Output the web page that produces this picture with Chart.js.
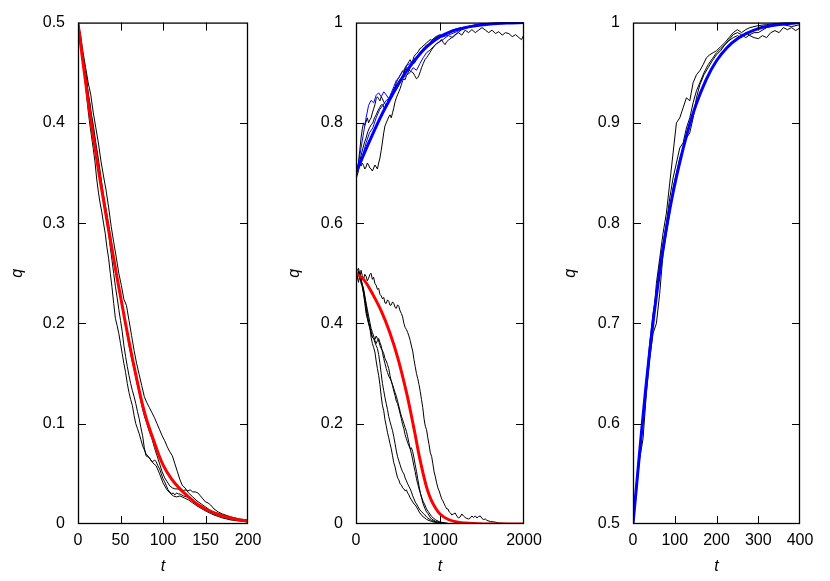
<!DOCTYPE html>
<html><head><meta charset="utf-8">
<script src="https://cdn.jsdelivr.net/npm/chart.js@4.4.1/dist/chart.umd.min.js"></script>
<style>
html,body{margin:0;padding:0;background:#fff;}
#wrap{position:relative;width:830px;height:581px;overflow:hidden;}
.pane{position:absolute;top:0;height:581px;}
</style></head><body>
<div id="wrap">
<div class="pane" style="left:0;width:277px"><canvas id="c1"></canvas></div>
<div class="pane" style="left:277px;width:276px"><canvas id="c2"></canvas></div>
<div class="pane" style="left:553px;width:277px"><canvas id="c3"></canvas></div>
</div>
<script>
// ---------- tick labels ----------
const p1XTicks = [0, 50, 100, 150, 200];
const p1YTicks = [0, 0.1, 0.2, 0.3, 0.4, 0.5];
const p2XTicks = [0, 1000, 2000];
const p2YTicks = [0, 0.2, 0.4, 0.6, 0.8, 1];
const p3XTicks = [0, 100, 200, 300, 400];
const p3YTicks = [0.5, 0.6, 0.7, 0.8, 0.9, 1];

// ---------- panel 1 (t, q) ----------
const p1Red = [[0,.5],[5,.466],[10,.434],[15,.403],[20,.375],[25,.348],[30,.323],[35,.298],[40,.274],[45,.25],[50,.227],[55,.204],[60,.182],[65,.161],[70,.141],[75,.122],[80,.106],[85,.093],[90,.081],[95,.069],[100,.059],[110,.045],[120,.035],[130,.027],[140,.02],[150,.015],[160,.011],[170,.008],[180,.006],[190,.004],[200,.003]];
const p1Run1 = [[0,.5],[2,.49],[4,.472],[6,.468],[8,.452],[10,.446],[12,.428],[14,.42],[16,.405],[18,.394],[20,.378],[22,.372],[24,.357],[26,.344],[28,.332],[30,.326],[32,.314],[34,.301],[36,.29],[38,.276],[40,.263],[42,.25],[44,.237],[46,.226],[48,.214],[50,.203],[52,.192],[54,.178],[56,.167],[58,.157],[60,.148],[62,.14],[64,.133],[66,.127],[68,.12],[70,.112],[72,.105],[74,.096],[76,.088],[78,.076],[80,.068],[82,.067],[84,.066],[86,.063],[88,.062],[90,.064],[92,.062],[94,.058],[96,.055],[98,.05],[100,.045],[102,.042],[104,.038],[106,.034],[108,.032],[110,.03],[112,.031],[114,.029],[116,.031],[118,.03],[120,.03],[124,.028],[128,.027],[132,.025],[136,.022],[140,.02],[145,.018],[150,.015],[155,.012],[160,.01],[170,.007],[180,.005],[190,.004],[200,.003]];
const p1Run2 = [[0,.5],[3,.488],[6,.47],[9,.455],[12,.44],[15,.428],[18,.41],[21,.395],[24,.38],[27,.362],[30,.347],[33,.333],[36,.316],[39,.297],[42,.281],[45,.266],[48,.25],[51,.238],[54,.224],[57,.218],[60,.203],[63,.188],[66,.173],[69,.16],[72,.149],[75,.138],[78,.127],[81,.121],[84,.116],[87,.111],[90,.106],[93,.1],[96,.094],[99,.088],[102,.083],[105,.077],[108,.072],[111,.068],[114,.06],[117,.052],[120,.044],[123,.038],[126,.036],[130,.031],[135,.027],[140,.023],[145,.02],[150,.017],[155,.014],[160,.012],[170,.009],[180,.006],[190,.004],[200,.003]];
const p1Run3 = [[0,.5],[3,.482],[6,.466],[9,.448],[12,.43],[15,.412],[18,.398],[21,.38],[24,.364],[27,.346],[30,.328],[33,.314],[36,.299],[39,.283],[42,.268],[45,.252],[48,.236],[51,.221],[54,.207],[57,.194],[60,.178],[63,.165],[66,.154],[69,.142],[72,.131],[75,.118],[78,.108],[81,.1],[84,.092],[87,.085],[90,.076],[93,.068],[96,.06],[99,.052],[102,.046],[105,.042],[108,.038],[111,.036],[114,.035],[117,.035],[120,.034],[123,.033],[126,.034],[129,.033],[132,.034],[135,.032],[138,.032],[141,.031],[144,.028],[147,.025],[150,.022],[153,.021],[156,.019],[160,.015],[165,.012],[170,.01],[180,.007],[190,.005],[200,.004]];
const p1Run4 = [[0,.5],[2,.485],[4,.475],[6,.458],[8,.445],[10,.428],[12,.412],[14,.398],[16,.386],[18,.374],[20,.361],[22,.344],[24,.331],[26,.32],[28,.311],[30,.3],[32,.29],[34,.276],[36,.265],[38,.25],[40,.236],[42,.22],[44,.205],[46,.198],[48,.19],[50,.18],[52,.17],[54,.16],[56,.151],[58,.14],[60,.131],[62,.124],[64,.118],[66,.108],[68,.1],[70,.095],[72,.09],[74,.084],[76,.078],[78,.074],[80,.07],[84,.066],[88,.061],[92,.058],[96,.05],[100,.041],[104,.035],[108,.031],[112,.028],[116,.027],[120,.028],[125,.026],[130,.024],[135,.021],[140,.018],[150,.013],[160,.009],[170,.006],[180,.004],[190,.003],[200,.002]];

// ---------- panel 2 (t, q) ----------
const p2Blue = [[0,.7],[100,.74],[200,.778],[300,.814],[400,.846],[500,.876],[600,.903],[700,.925],[800,.945],[900,.96],[1000,.972],[1100,.98],[1200,.986],[1400,.993],[1600,.997],[1800,.999],[2000,1]];
const p2Red = [[0,.5],[100,.486],[200,.458],[300,.425],[400,.383],[500,.33],[600,.263],[650,.224],[700,.182],[750,.138],[800,.1],[850,.068],[900,.046],[950,.031],[1000,.02],[1100,.009],[1200,.004],[1300,.002],[1400,.001],[1600,0],[2000,0]];
const p2Up1 = [[0,.7],[15,.705],[30,.722],[45,.745],[60,.77],[75,.788],[90,.8],[105,.795],[120,.802],[135,.81],[150,.8],[165,.806],[180,.81],[195,.82],[210,.828],[225,.836],[240,.848],[255,.852],[270,.848],[285,.844],[300,.852],[315,.848],[330,.842],[345,.838],[360,.835],[375,.84],[390,.85],[405,.848],[420,.858],[435,.862],[450,.868],[465,.872],[480,.88],[495,.886],[510,.89],[525,.895],[540,.898],[555,.904],[570,.9],[585,.908],[600,.912],[615,.918],[630,.922],[645,.926],[660,.92],[675,.924],[690,.932],[705,.936],[720,.938],[740,.942],[760,.948],[780,.95],[800,.954],[820,.956],[840,.96],[860,.962],[880,.966],[900,.965],[925,.968],[950,.972],[975,.974],[1000,.976],[1025,.974],[1050,.972],[1075,.978],[1100,.98],[1125,.984],[1150,.985],[1200,.988],[1250,.99],[1300,.991],[1400,.995],[1500,.998],[1600,.998],[1700,.999],[1800,1],[2000,1]];
const p2Up2 = [[0,.69],[15,.695],[30,.705],[45,.722],[60,.714],[75,.72],[90,.715],[105,.708],[120,.712],[135,.72],[150,.716],[165,.71],[180,.708],[195,.704],[210,.71],[225,.716],[240,.712],[255,.708],[270,.72],[285,.73],[300,.745],[315,.762],[330,.78],[345,.794],[360,.8],[375,.806],[390,.812],[405,.816],[420,.81],[435,.82],[450,.83],[465,.842],[480,.85],[495,.856],[510,.862],[525,.868],[540,.876],[555,.884],[570,.888],[585,.886],[600,.894],[620,.9],[640,.908],[660,.914],[680,.918],[700,.92],[720,.928],[740,.935],[760,.94],[780,.944],[800,.948],[820,.952],[840,.955],[860,.956],[880,.96],[900,.964],[925,.968],[950,.97],[975,.972],[1000,.97],[1025,.974],[1050,.976],[1100,.978],[1150,.983],[1200,.985],[1300,.99],[1400,.993],[1500,.995],[1600,.998],[1800,1],[2000,1]];
const p2Up3 = [[0,.7],[20,.708],[40,.72],[60,.735],[80,.748],[100,.76],[120,.77],[140,.782],[160,.79],[180,.796],[200,.8],[220,.81],[240,.816],[260,.824],[280,.83],[300,.836],[320,.836],[340,.828],[360,.83],[380,.838],[400,.846],[420,.852],[440,.86],[460,.868],[480,.876],[500,.88],[520,.886],[540,.89],[560,.896],[580,.904],[600,.91],[620,.908],[640,.904],[660,.902],[680,.9],[700,.894],[720,.888],[735,.89],[750,.895],[765,.902],[780,.91],[800,.918],[820,.926],[840,.93],[860,.935],[880,.94],[900,.946],[920,.95],[940,.955],[960,.958],[980,.96],[1000,.964],[1020,.966],[1040,.96],[1060,.956],[1080,.962],[1100,.965],[1140,.97],[1180,.976],[1220,.98],[1260,.975],[1300,.985],[1340,.98],[1380,.986],[1420,.98],[1460,.985],[1500,.99],[1540,.985],[1580,.98],[1620,.985],[1660,.978],[1700,.982],[1740,.975],[1780,.98],[1820,.978],[1860,.972],[1900,.976],[1940,.97],[1970,.966],[2000,.976]];
const p2UpBlue1 = [[0,.7],[30,.72],[60,.75],[90,.78],[120,.81],[150,.835],[180,.845],[210,.84],[240,.855],[270,.86],[300,.852],[330,.862],[360,.856],[390,.848],[420,.86],[450,.872],[480,.885],[510,.89],[540,.9],[570,.905],[600,.915],[640,.918],[680,.925],[720,.93],[760,.94],[800,.948],[850,.952],[900,.958],[950,.965],[1000,.97],[1100,.975],[1200,.982],[1300,.99],[1400,.994],[1500,.997],[1600,.998],[1700,1],[2000,1]];
const p2UpBlue2 = [[0,.7],[40,.715],[80,.735],[120,.76],[160,.78],[200,.79],[240,.81],[280,.826],[320,.835],[360,.845],[400,.85],[440,.858],[480,.866],[520,.88],[560,.89],[600,.895],[640,.9],[680,.91],[720,.905],[760,.918],[800,.93],[840,.94],[880,.945],[920,.952],[960,.958],[1000,.962],[1050,.968],[1100,.974],[1150,.97],[1200,.978],[1250,.985],[1300,.988],[1400,.994],[1500,.997],[1600,.999],[1800,1],[2000,1]];
const p2Low1 = [[0,.5],[15,.492],[30,.503],[45,.488],[60,.506],[75,.495],[90,.488],[105,.498],[120,.494],[135,.485],[150,.49],[165,.498],[180,.5],[195,.488],[210,.492],[225,.48],[240,.476],[255,.468],[270,.47],[285,.458],[300,.455],[315,.449],[330,.452],[345,.441],[360,.44],[375,.447],[390,.444],[405,.436],[420,.437],[435,.443],[450,.44],[465,.432],[480,.43],[495,.437],[510,.434],[525,.425],[540,.42],[555,.413],[570,.4],[585,.392],[600,.388],[615,.382],[630,.375],[645,.366],[660,.355],[675,.345],[690,.328],[705,.314],[720,.3],[735,.29],[750,.278],[765,.264],[780,.248],[795,.232],[810,.21],[825,.195],[840,.188],[855,.172],[870,.158],[885,.142],[900,.135],[915,.12],[930,.104],[945,.094],[960,.082],[975,.072],[990,.066],[1005,.058],[1020,.05],[1035,.046],[1050,.04],[1065,.035],[1080,.03],[1095,.03],[1110,.024],[1125,.022],[1140,.018],[1160,.02],[1180,.022],[1200,.016],[1220,.012],[1240,.014],[1260,.02],[1280,.016],[1300,.013],[1320,.011],[1340,.01],[1360,.012],[1380,.016],[1400,.013],[1420,.016],[1440,.012],[1460,.015],[1480,.016],[1500,.011],[1520,.009],[1540,.01],[1560,.007],[1600,.005],[1650,.004],[1700,.002],[1800,.001],[1900,0],[2000,0]];
const p2Low2 = [[0,.5],[15,.49],[30,.505],[45,.497],[60,.48],[75,.476],[90,.465],[105,.452],[120,.438],[135,.42],[150,.405],[165,.393],[180,.372],[195,.36],[210,.352],[225,.343],[240,.325],[255,.31],[270,.296],[285,.278],[300,.255],[315,.236],[330,.226],[345,.208],[360,.196],[375,.182],[390,.172],[405,.16],[420,.15],[435,.136],[450,.122],[465,.114],[480,.102],[495,.092],[510,.088],[525,.08],[540,.078],[555,.072],[570,.07],[585,.066],[600,.068],[615,.062],[630,.058],[645,.052],[660,.048],[675,.044],[690,.04],[705,.038],[720,.034],[740,.028],[760,.022],[780,.018],[800,.014],[820,.012],[840,.009],[870,.007],[900,.005],[950,.003],[1000,.001],[1050,0],[2000,0]];
const p2Low3 = [[0,.5],[15,.506],[30,.51],[45,.498],[60,.49],[75,.474],[90,.46],[105,.446],[120,.43],[135,.412],[150,.4],[165,.39],[180,.38],[195,.372],[210,.37],[225,.368],[240,.375],[255,.37],[270,.365],[285,.356],[300,.35],[315,.346],[330,.34],[345,.33],[360,.325],[375,.318],[390,.31],[405,.296],[420,.285],[435,.276],[450,.265],[465,.256],[480,.245],[495,.24],[510,.23],[525,.22],[540,.21],[555,.198],[570,.19],[585,.178],[600,.17],[615,.162],[630,.156],[645,.15],[660,.152],[675,.144],[690,.132],[705,.118],[720,.105],[735,.09],[750,.076],[765,.063],[780,.052],[800,.04],[820,.031],[840,.024],[860,.02],[880,.014],[900,.01],[950,.005],[1000,.003],[1100,.001],[1200,0],[2000,0]];
const p2Low4 = [[0,.49],[15,.498],[30,.5],[45,.49],[60,.485],[75,.478],[90,.47],[105,.455],[120,.44],[135,.428],[150,.415],[165,.402],[180,.39],[195,.382],[210,.375],[225,.366],[240,.36],[255,.366],[270,.37],[285,.362],[300,.355],[315,.342],[330,.33],[345,.32],[360,.31],[375,.302],[390,.295],[405,.29],[420,.285],[435,.278],[450,.27],[465,.262],[480,.255],[495,.245],[510,.235],[525,.225],[540,.215],[555,.208],[570,.2],[585,.192],[600,.185],[615,.174],[630,.162],[645,.15],[660,.14],[675,.128],[690,.115],[705,.104],[720,.09],[735,.08],[750,.07],[765,.062],[780,.054],[800,.045],[820,.038],[840,.03],[860,.025],[880,.02],[900,.015],[920,.012],[950,.008],[1000,.004],[1100,.001],[1200,0],[2000,0]];
const p2Low5 = [[0,.5],[15,.492],[30,.482],[45,.498],[60,.494],[75,.472],[90,.46],[105,.44],[120,.42],[135,.41],[150,.4],[165,.392],[180,.384],[195,.372],[210,.37],[225,.362],[240,.356],[255,.35],[270,.338],[285,.32],[300,.3],[315,.28],[330,.266],[345,.252],[360,.24],[375,.228],[390,.214],[405,.204],[420,.195],[435,.186],[450,.174],[465,.16],[480,.146],[495,.134],[510,.126],[525,.118],[540,.11],[555,.104],[570,.1],[585,.092],[600,.086],[615,.08],[630,.075],[645,.07],[660,.064],[675,.056],[690,.05],[705,.044],[720,.04],[740,.034],[760,.028],[780,.025],[800,.021],[820,.018],[840,.014],[870,.01],[900,.007],[950,.004],[1000,.002],[1100,0],[2000,0]];

// ---------- panel 3 (t, q) ----------
const p3Blue = [[0,.5],[10,.545],[20,.59],[30,.633],[40,.672],[50,.708],[60,.74],[75,.782],[90,.818],[110,.857],[130,.89],[150,.917],[175,.943],[200,.962],[225,.975],[250,.984],[300,.994],[350,.998],[400,1]];
const p3Run1 = [[0,.5],[8,.53],[16,.57],[24,.6],[32,.64],[40,.67],[48,.7],[56,.74],[64,.765],[72,.79],[80,.81],[88,.84],[96,.87],[104,.9],[112,.905],[120,.915],[128,.925],[136,.922],[144,.94],[152,.948],[160,.952],[168,.958],[176,.965],[184,.968],[192,.97],[200,.972],[210,.976],[220,.98],[230,.985],[240,.99],[250,.993],[260,.99],[270,.993],[280,.995],[300,.997],[320,.998],[340,.999],[360,1],[400,1]];
const p3Run2 = [[0,.5],[8,.54],[16,.575],[24,.61],[32,.645],[40,.68],[48,.71],[56,.73],[64,.76],[72,.78],[80,.8],[88,.825],[96,.845],[104,.86],[112,.875],[120,.88],[128,.895],[136,.905],[144,.92],[152,.932],[160,.94],[170,.95],[180,.958],[190,.964],[200,.97],[210,.974],[220,.978],[230,.982],[240,.985],[250,.987],[260,.985],[270,.99],[280,.987],[290,.985],[300,.984],[310,.987],[320,.985],[330,.99],[340,.992],[350,.99],[360,.995],[370,.993],[380,.995],[390,.992],[400,.995]];
const p3Run3 = [[0,.5],[8,.535],[16,.565],[24,.585],[32,.63],[40,.665],[48,.69],[56,.7],[64,.73],[72,.77],[80,.79],[88,.81],[96,.835],[104,.85],[112,.865],[120,.875],[128,.885],[136,.89],[144,.905],[152,.925],[160,.938],[170,.948],[180,.955],[190,.962],[200,.968],[210,.972],[220,.978],[230,.983],[240,.988],[250,.99],[260,.988],[270,.985],[280,.988],[290,.99],[300,.99],[320,.995],[340,.997],[360,.998],[380,.996],[400,.998]];

// ---------- rendering ----------
Chart.defaults.color = '#000';
Chart.defaults.font.family = '"Liberation Sans", Arial, Helvetica, sans-serif';
Chart.defaults.font.size = 16;
Chart.defaults.animation = false;

const pts = a => a.map(p => ({x: p[0], y: p[1]}));
const trace = (a, color) => ({data: pts(a), borderColor: color || '#000', borderWidth: 1, pointRadius: 0, tension: 0, order: 2});
const curve = (a, color) => ({data: pts(a), borderColor: color, borderWidth: 3, pointRadius: 0, cubicInterpolationMode: 'monotone', order: 0});

const framePlugin = {
  id: 'frame',
  afterDatasetsDraw(chart) {
    const {ctx, chartArea: a, scales: {x, y}} = chart;
    const L = 8;
    ctx.save();
    ctx.strokeStyle = '#000';
    ctx.lineWidth = 1;
    ctx.beginPath();
    x.ticks.forEach(t => {
      const px = Math.round(x.getPixelForValue(t.value)) + 0.5;
      if (px < a.left + 2 || px > a.right - 2) return;
      ctx.moveTo(px, a.bottom); ctx.lineTo(px, a.bottom - L);
      ctx.moveTo(px, a.top); ctx.lineTo(px, a.top + L);
    });
    y.ticks.forEach(t => {
      const py = Math.round(y.getPixelForValue(t.value)) + 0.5;
      if (py < a.top + 2 || py > a.bottom - 2) return;
      ctx.moveTo(a.left, py); ctx.lineTo(a.left + L, py);
      ctx.moveTo(a.right, py); ctx.lineTo(a.right - L, py);
    });
    ctx.stroke();
    ctx.lineWidth = 1.3;
    ctx.strokeRect(a.left + 0.5, a.top + 0.5, a.right - a.left - 1, a.bottom - a.top - 1);
    ctx.restore();
  }
};

function makeChart(id, datasets, xr, yr, xt, yt, yw, rightPad) {
  new Chart(document.getElementById(id), {
    type: 'line',
    data: {datasets},
    options: {
      responsive: true, maintainAspectRatio: false,
      layout: {padding: {top: 19, right: rightPad, bottom: 0, left: 0}},
      plugins: {legend: {display: false}, tooltip: {enabled: false}},
      scales: {
        x: {
          type: 'linear', min: xr[0], max: xr[1],
          afterBuildTicks: s => { s.ticks = xt.map(v => ({value: v})); },
          afterFit: s => { s.height = 57; },
          grid: {display: false, drawTicks: false},
          border: {display: false},
          ticks: {padding: 7, maxRotation: 0, autoSkip: false, callback: v => String(v)},
          title: {display: true, text: 't', font: {style: 'italic', size: 16}, padding: {top: 0, bottom: 5}}
        },
        y: {
          type: 'linear', min: yr[0], max: yr[1],
          afterBuildTicks: s => { s.ticks = yt.map(v => ({value: v})); },
          afterFit: s => { s.width = yw; },
          grid: {display: false, drawTicks: false},
          border: {display: false},
          ticks: {padding: 13, autoSkip: false, callback: v => String(v)},
          title: {display: true, text: 'q', font: {style: 'italic', size: 16}, padding: {top: 8, bottom: 0}}
        }
      }
    },
    plugins: [framePlugin]
  });
}

makeChart('c1', [
  curve(p1Red, '#ff0000'),
  trace(p1Run1), trace(p1Run2), trace(p1Run3), trace(p1Run4)
], [0, 200], [0, 0.5], p1XTicks, p1YTicks, 78, 29);

makeChart('c2', [
  curve(p2Blue, '#0000ff'),
  curve(p2Red, '#ff0000'),
  trace(p2UpBlue1, '#0000ff'), trace(p2UpBlue2, '#0000ff'),
  trace(p2Up1), trace(p2Up2), trace(p2Up3),
  trace(p2Low1), trace(p2Low2), trace(p2Low3), trace(p2Low4), trace(p2Low5)
], [0, 2000], [0, 1], p2XTicks, p2YTicks, 79, 29);

makeChart('c3', [
  curve(p3Blue, '#0000ff'),
  trace(p3Run1), trace(p3Run2), trace(p3Run3)
], [0, 400], [0.5, 1], p3XTicks, p3YTicks, 80, 30);
</script>
</body></html>
